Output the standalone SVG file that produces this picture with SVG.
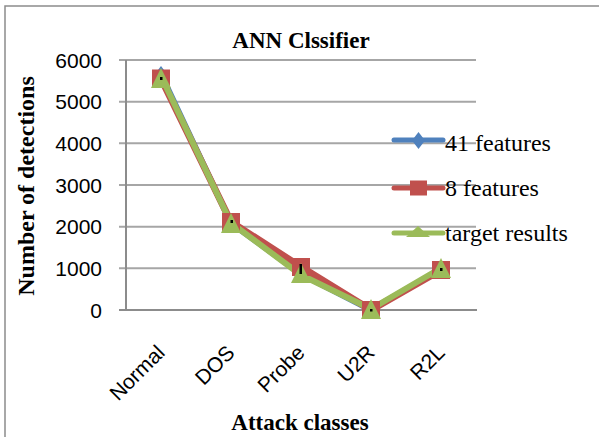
<svg xmlns="http://www.w3.org/2000/svg" width="599" height="437" viewBox="0 0 599 437">
<defs>
<style>
.grid{stroke:#a6a6a6;stroke-width:2;fill:none}
.axis{stroke:#8c8c8c;stroke-width:2;fill:none}
.tick{font-family:"Liberation Sans",Arial,sans-serif;font-size:21px;fill:#000}
.ttl{font-family:"Liberation Serif","Times New Roman",serif;font-weight:bold;fill:#000}
.leg{font-family:"Liberation Serif","Times New Roman",serif;font-size:24px;fill:#000}
.blue{stroke:#4F81BD;fill:none;stroke-width:6;stroke-linejoin:round;stroke-linecap:round}
.red{stroke:#C0504D;fill:none;stroke-width:7;stroke-linejoin:round;stroke-linecap:round}
.green{stroke:#9BBB59;fill:none;stroke-width:6;stroke-linejoin:round;stroke-linecap:round}
</style>
<path id="dia" d="M0,-8 L6,0 L0,8 L-6,0 Z" fill="#4F81BD"/>
<rect id="sq" x="-9" y="-9" width="18" height="18" fill="#C0504D"/>
<path id="tri" d="M0,-10 L10,10 L-10,10 Z" fill="#9BBB59"/>
</defs>
<rect x="0" y="0" width="599" height="437" fill="#fff"/>
<path d="M5,437 V6 H599" stroke="#8c8c8c" stroke-width="1.5" fill="none"/>

<g id="title"><text class="ttl" x="301" y="48" font-size="23" text-anchor="middle">ANN Clssifier</text></g>

<g id="grid">
<path class="grid" d="M119,60H476M119,101.7H476M119,143.3H476M119,185H476M119,226.7H476M119,268.3H476"/>
<path class="axis" d="M126,60V310M119,310H477"/>
</g>

<g id="yticks">
<text class="tick" x="102" y="67.5" text-anchor="end">6000</text>
<text class="tick" x="102" y="109.2" text-anchor="end">5000</text>
<text class="tick" x="102" y="150.8" text-anchor="end">4000</text>
<text class="tick" x="102" y="192.5" text-anchor="end">3000</text>
<text class="tick" x="102" y="234.2" text-anchor="end">2000</text>
<text class="tick" x="102" y="275.8" text-anchor="end">1000</text>
<text class="tick" x="102" y="317.5" text-anchor="end">0</text>
</g>

<g id="xticks">
<text class="tick" text-anchor="end" transform="translate(166,354) rotate(-45)">Normal</text>
<text class="tick" text-anchor="end" transform="translate(236,354) rotate(-45)">DOS</text>
<text class="tick" text-anchor="end" transform="translate(306,354) rotate(-45)">Probe</text>
<text class="tick" text-anchor="end" transform="translate(376,354) rotate(-45)">U2R</text>
<text class="tick" text-anchor="end" transform="translate(446,354) rotate(-45)">R2L</text>
</g>

<g id="ytitle"><text class="ttl" font-size="24" text-anchor="middle" transform="translate(34,186) rotate(-90)">Number of detections</text></g>
<g id="xtitle"><text class="ttl" font-size="23" x="300" y="430" text-anchor="middle">Attack classes</text></g>

<g id="connectors">
<polyline class="blue" points="161,74 231,223 301,274 371,310 441,269"/>
<polyline class="red" points="161,78.5 231,222 301,267 371,310 441,270"/>
<polyline class="green" points="161,76 231,223 301,275 371,309 441,268"/>
</g>

<g id="series-41">
<use href="#dia" x="161" y="74"/><use href="#dia" x="231" y="223"/><use href="#dia" x="301" y="274"/><use href="#dia" x="371" y="310"/><use href="#dia" x="441" y="269"/>
</g>
<g id="series-8">
<use href="#sq" x="161" y="78.5"/><use href="#sq" x="231" y="222"/><use href="#sq" x="301" y="267"/><use href="#sq" x="371" y="310"/><use href="#sq" x="441" y="270"/>
</g>
<g id="series-target">
<use href="#tri" x="161" y="78"/><use href="#tri" x="231" y="223"/><use href="#tri" x="301" y="273"/><use href="#tri" x="371" y="309"/><use href="#tri" x="441" y="268"/>
</g>
<g id="dots" fill="#000">
<rect x="160" y="77" width="2.5" height="3"/>
<rect x="230.5" y="220" width="2.5" height="3"/>
<rect x="299.5" y="264" width="2.5" height="10"/>
<rect x="370" y="309" width="2.5" height="2.5"/>
<rect x="440" y="268" width="2.5" height="3"/>
</g>

<g id="legend">
<g id="leg-41"><path d="M394,140H443" stroke="#4F81BD" stroke-width="5" stroke-linecap="round"/><path d="M418.5,132 L425,140.5 L418.5,149 L412,140.5 Z" fill="#4F81BD"/><text class="leg" x="445" y="151">41 features</text></g>
<g id="leg-8"><path d="M394,188H443" stroke="#C0504D" stroke-width="5" stroke-linecap="round"/><rect x="410" y="180.5" width="17" height="15" fill="#C0504D"/><text class="leg" x="445" y="196">8 features</text></g>
<g id="leg-target"><path d="M394,233H443" stroke="#9BBB59" stroke-width="5" stroke-linecap="round"/><path d="M418,226 L430,237 L406,237 Z" fill="#9BBB59"/><text class="leg" x="445" y="241">target results</text></g>
</g>
</svg>
